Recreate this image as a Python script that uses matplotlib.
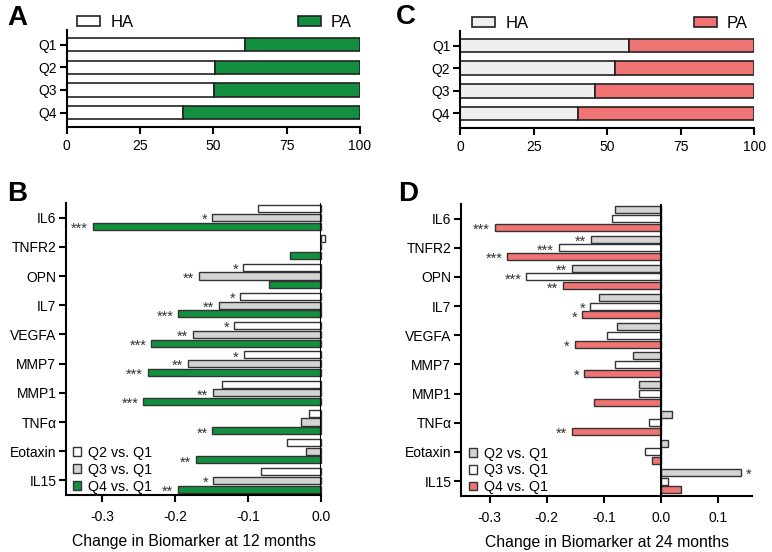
import matplotlib
matplotlib.use("Agg")
import matplotlib.pyplot as plt
import numpy as np
from matplotlib.patches import Patch

plt.rcParams["font.family"] = ["Liberation Sans", "DejaVu Sans"]
plt.rcParams["axes.unicode_minus"] = False
plt.rcParams["font.size"] = 10

# ---- data ----
quartiles = ["Q1", "Q2", "Q3", "Q4"]
ha_12 = [60.8, 50.6, 50.2, 39.8]
ha_24 = [57.3, 52.6, 45.9, 40.2]

biomarkers = ["IL6", "TNFR2", "OPN", "IL7", "VEGFA", "MMP7", "MMP1", "TNF\u03b1", "Eotaxin", "IL15"]

b_q2 = [-0.086, 0.006, -0.107, -0.111, -0.119, -0.106, -0.136, -0.017, -0.046, -0.083]
b_q3 = [-0.149, 0.0, -0.168, -0.140, -0.176, -0.183, -0.148, -0.028, -0.021, -0.148]
b_q4 = [-0.313, -0.042, -0.071, -0.196, -0.233, -0.238, -0.244, -0.149, -0.171, -0.196]
b_q2_sig = ["", "", "*", "*", "*", "*", "", "", "", ""]
b_q3_sig = ["*", "", "**", "**", "**", "**", "**", "", "", "*"]
b_q4_sig = ["***", "", "", "***", "***", "***", "***", "**", "**", "**"]

d_q2 = [-0.081, -0.123, -0.155, -0.108, -0.077, -0.049, -0.039, 0.020, 0.013, 0.141]
d_q3 = [-0.085, -0.179, -0.236, -0.124, -0.095, -0.081, -0.039, -0.020, -0.027, 0.013]
d_q4 = [-0.291, -0.269, -0.172, -0.138, -0.151, -0.135, -0.117, -0.155, -0.016, 0.036]
d_q2_sig = ["", "**", "**", "", "", "", "", "", "", "*"]
d_q3_sig = ["", "***", "***", "*", "", "", "", "", "", ""]
d_q4_sig = ["***", "***", "**", "*", "*", "*", "", "**", "", ""]

GREEN = "#13903f"
RED = "#f07474"
GRAY = "#d4d4d4"
LIGHT = "#efefef"
W, H = 772, 552


def px_axes(fig, left, top, right, bottom):
    return fig.add_axes([left / W, 1 - bottom / H, (right - left) / W, (bottom - top) / H])


def style_axis(ax, xpad=2):
    for side in ["top", "right"]:
        ax.spines[side].set_visible(False)
    for side in ["left", "bottom"]:
        ax.spines[side].set_linewidth(1.5)
    ax.tick_params(width=1.5, length=5, labelsize=10, pad=2)
    ax.tick_params(axis="x", pad=xpad)


def plot_stacked(ax, ha, ha_color, pa_color, ha_x, pa_x):
    y = np.arange(len(quartiles))
    pa = [100 - v for v in ha]
    ax.barh(y, ha, height=0.6, color=ha_color, edgecolor="#222222", linewidth=1.2)
    ax.barh(y, pa, left=ha, height=0.6, color=pa_color, edgecolor="#222222", linewidth=1.2)
    ax.set_yticks(y)
    ax.set_yticklabels(quartiles)
    ax.set_ylim(3.65, -0.65)
    ax.set_xlim(0, 100)
    ax.set_xticks([0, 25, 50, 75, 100])
    style_axis(ax, xpad=3.5)
    h1 = Patch(facecolor=ha_color, edgecolor="#222222", linewidth=1.2)
    h2 = Patch(facecolor=pa_color, edgecolor="#222222", linewidth=1.2)
    kw = dict(frameon=False, fontsize=12, handlelength=1.4, handleheight=0.6,
              handletextpad=0.6, borderaxespad=0, borderpad=0)
    leg = ax.legend([h1], ["HA"], loc="lower left", bbox_to_anchor=(ha_x, 1.0), **kw)
    ax.add_artist(leg)
    ax.legend([h2], ["PA"], loc="lower right", bbox_to_anchor=(pa_x, 1.0), **kw)


def plot_change(ax, series, sigs, colors, labels, xlim, xticks, xlabel):
    y = np.arange(len(biomarkers))
    offsets = [-0.3, 0.0, 0.3]
    handles = []
    for vals, sig, color, off, lab in zip(series, sigs, colors, offsets, labels):
        ax.barh(y + off, vals, height=0.24, color=color, edgecolor="#333333", linewidth=1.0, clip_on=False)
        handles.append(Patch(facecolor=color, edgecolor="#333333", linewidth=1.0, label=lab))
        for yi, v, s in zip(y, vals, sig):
            if not s:
                continue
            sign = 1 if v >= 0 else -1
            ax.annotate(s, (v, yi + off + 0.09), xytext=(sign * 3.5, 0), textcoords="offset points",
                        ha="left" if v >= 0 else "right", va="center", fontsize=10.5, color="#333333")
    ax.axvline(0, color="black", linewidth=1.5)
    ax.set_yticks(y)
    ax.set_yticklabels(biomarkers, fontsize=10.5)
    ax.set_ylim(9.5, -0.5)
    ax.set_xlim(*xlim)
    ax.set_xticks(xticks)
    ax.set_xticklabels([f"{t:.1f}" for t in xticks])
    ax.set_xlabel(xlabel, fontsize=11.3, labelpad=7)
    style_axis(ax, xpad=6)
    ax.legend(handles=handles, loc="lower left", bbox_to_anchor=(0.027, 0.005), frameon=False,
              fontsize=10.3, handlelength=0.55, handleheight=0.55, handletextpad=0.5,
              labelspacing=0.2, borderaxespad=0, borderpad=0)


fig = plt.figure(figsize=(W / 100, H / 100), dpi=100)

ax_a = px_axes(fig, 66.7, 30, 360, 127.3)
plot_stacked(ax_a, ha_12, "white", GREEN, 0.035, 0.973)

ax_c = px_axes(fig, 460, 31, 754.3, 128)
plot_stacked(ax_c, ha_24, LIGHT, RED, 0.041, 0.979)

ax_b = px_axes(fig, 66, 203, 321, 495)
plot_change(ax_b, [b_q2, b_q3, b_q4], [b_q2_sig, b_q3_sig, b_q4_sig], ["white", GRAY, GREEN],
            ["Q2 vs. Q1", "Q3 vs. Q1", "Q4 vs. Q1"], (-0.35, 0.0), [-0.3, -0.2, -0.1, 0.0],
            "Change in Biomarker at 12 months")

ax_d = px_axes(fig, 461, 204, 752.3, 495.7)
plot_change(ax_d, [d_q2, d_q3, d_q4], [d_q2_sig, d_q3_sig, d_q4_sig], [GRAY, "white", RED],
            ["Q2 vs. Q1", "Q3 vs. Q1", "Q4 vs. Q1"], (-0.35, 0.16), [-0.3, -0.2, -0.1, 0.0, 0.1],
            "Change in Biomarker at 24 months")

for letter, x, y in [("A", 7, 5), ("C", 396, 4), ("B", 7, 181), ("D", 398, 181)]:
    fig.text(x / W, 1 - y / H, letter, fontsize=20, fontweight="bold", va="top", ha="left")

fig.savefig("out.png", dpi=100)
